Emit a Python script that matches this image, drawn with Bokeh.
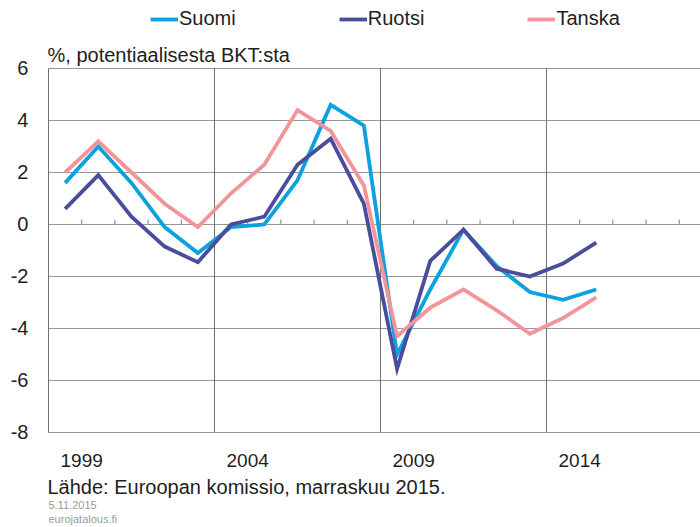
from bokeh.plotting import figure
from bokeh.models import (Range1d, FixedTicker, Legend, LegendItem, Label)
from bokeh.embed import file_html
from bokeh.resources import INLINE

years = list(range(1999, 2016))
suomi = [1.6, 3.0, 1.6, -0.1, -1.1, -0.1, 0.0, 1.7, 4.6, 3.8, -5.0, -2.5, -0.2, -1.6, -2.6, -2.9, -2.5]
ruotsi = [0.6, 1.9, 0.3, -0.85, -1.45, 0.0, 0.3, 2.3, 3.3, 0.8, -5.55, -1.4, -0.2, -1.7, -2.0, -1.5, -0.7]
tanska = [2.0, 3.2, 2.0, 0.8, -0.1, 1.2, 2.3, 4.4, 3.6, 1.5, -4.3, -3.2, -2.5, -3.3, -4.2, -3.6, -2.8]

series_names = ["Suomi", "Ruotsi", "Tanska"]
series_colors = ["#0BA2DF", "#4A4C9C", "#F2959B"]

y_ticks = [-8, -6, -4, -2, 0, 2, 4, 6]
x_label_years = [1999, 2004, 2009, 2014]
grid_years = [2003.5, 2008.5, 2013.5]

title_text = "%, potentiaalisesta BKT:sta"
source_text = "Lähde: Euroopan komissio, marraskuu 2015."
date_text = "5.11.2015"
site_text = "eurojatalous.fi"

FONT = "Liberation Sans"
TXT = "#1e1e1e"

# data extent of the plotting area
X0, X1 = 1998.5, 2018.14
Y0, Y1 = -8, 6
p = figure(width=700, height=527, output_backend="svg", toolbar_location=None,
           x_range=Range1d(X0 - 48 / 33.2, X1), y_range=Range1d(-11.654, 8.615),
           min_border_left=0, min_border_right=0, min_border_top=0, min_border_bottom=0)
p.outline_line_color = None
p.background_fill_color = "white"
p.border_fill_color = "white"
p.xgrid.visible = False
p.ygrid.visible = False

# grid lines (from tick arrays)
p.segment(x0=[X0] * len(y_ticks), x1=[X1] * len(y_ticks), y0=y_ticks, y1=y_ticks,
          line_color="#959595", line_width=1)
p.segment(x0=grid_years, x1=grid_years, y0=[Y0] * len(grid_years), y1=[Y1] * len(grid_years),
          line_color="#6e6e6e", line_width=1)

# small category tick marks on the zero line
boundaries = [y + 0.5 for y in range(1999, 2018)]
p.segment(x0=boundaries, x1=boundaries, y0=[0] * len(boundaries), y1=[0.19] * len(boundaries),
          line_color="#808080", line_width=1)

# y axis
p.yaxis.fixed_location = X0
p.yaxis.bounds = (Y0, Y1)
p.yaxis.ticker = FixedTicker(ticks=y_ticks)
p.yaxis.major_label_overrides = {t: str(t) for t in y_ticks}
p.yaxis.major_tick_in = 0
p.yaxis.major_tick_out = 0
p.yaxis.minor_tick_line_color = None
p.yaxis.axis_line_color = "#6e6e6e"
p.yaxis.axis_line_width = 1
p.yaxis.major_label_text_font = FONT
p.yaxis.major_label_text_font_size = "20px"
p.yaxis.major_label_text_color = TXT
p.yaxis.major_label_standoff = 20

# x axis (labels)
p.xaxis.fixed_location = Y0
p.xaxis.bounds = (X0, X1)
p.xaxis.ticker = FixedTicker(ticks=[y + 0.5 for y in x_label_years])
p.xaxis.major_label_overrides = {y + 0.5: str(y) for y in x_label_years}
p.xaxis.major_tick_in = 0
p.xaxis.major_tick_out = 0
p.xaxis.minor_tick_line_color = None
p.xaxis.axis_line_color = None
p.xaxis.major_label_text_font = FONT
p.xaxis.major_label_text_font_size = "19px"
p.xaxis.major_label_text_color = TXT
p.xaxis.major_label_standoff = 22

renderers = []
for name, vals, col in zip(series_names, [suomi, ruotsi, tanska], series_colors):
    r = p.line(years, vals, line_color=col, line_width=3.8, line_join="miter")
    renderers.append(r)

leg = Legend(items=[LegendItem(label=n, renderers=[r]) for n, r in zip(series_names, renderers)],
             location=(150, 497), orientation="horizontal", glyph_width=28, glyph_height=20,
             label_height=20, label_standoff=1, padding=0, margin=0, spacing=103,
             border_line_color=None, background_fill_alpha=0,
             label_text_font=FONT, label_text_font_size="20px", label_text_color=TXT)
p.add_layout(leg)

p.add_layout(Label(x=X0 - 0.03, y=6.5, text=title_text, text_font=FONT, text_font_size="20px",
                   text_color=TXT, text_baseline="middle", text_align="left"))
p.add_layout(Label(x=X0 - 0.03, y=-10.1, text=source_text, text_font=FONT, text_font_size="20px",
                   text_color=TXT, text_baseline="middle", text_align="left"))
p.add_layout(Label(x=X0, y=-10.79, text=date_text, text_font=FONT, text_font_size="11px",
                   text_color="#9a9a9a", text_baseline="middle", text_align="left"))
p.add_layout(Label(x=X0, y=-11.32, text=site_text, text_font=FONT, text_font_size="11px",
                   text_color="#9a9a9a", text_baseline="middle", text_align="left"))

open("out.html", "w").write(file_html(p, INLINE))
